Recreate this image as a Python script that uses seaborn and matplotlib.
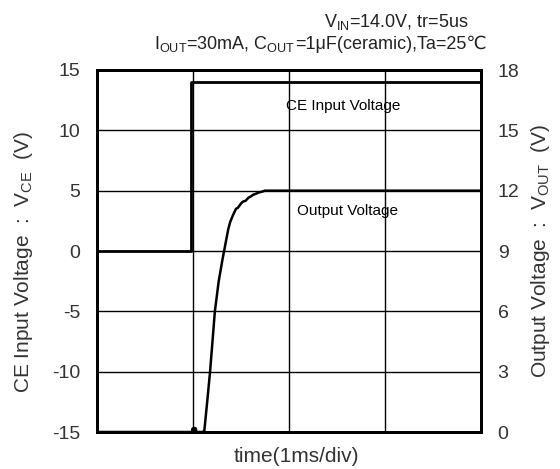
import numpy as np
import pandas as pd
import matplotlib
matplotlib.use("Agg")
import matplotlib.pyplot as plt
import seaborn as sns

# ---- data ----
ce_time = [0.0, 0.98, 0.98, 4.0]
ce_volt = [0.0, 0.0, 14.0, 14.0]

out_time = [0.0, 0.99, 1.00, 1.01, 1.02, 1.03, 1.04, 1.06, 1.10, 1.12, 1.15, 1.18, 1.21, 1.23,
            1.27, 1.31, 1.35, 1.37, 1.39, 1.42, 1.45, 1.47, 1.50, 1.52, 1.55, 1.58,
            1.60, 1.63, 1.66, 1.68, 1.72, 1.75, 4.0]
out_volt = [0.0, 0.0, 0.18, 0.0, 0.2, 0.18, 0.0, 0.0, 0.0, 0.05, 1.5, 3.0, 4.8, 6.0,
            7.5, 8.6, 9.6, 10.1, 10.45, 10.8, 11.1, 11.15, 11.35, 11.45, 11.5, 11.65,
            11.7, 11.8, 11.85, 11.9, 11.95, 12.0, 12.0]

left_ticks = [-15, -10, -5, 0, 5, 10, 15]
right_ticks = [0, 3, 6, 9, 12, 15, 18]

ce_df = pd.DataFrame({"t": ce_time, "v": ce_volt})
out_df = pd.DataFrame({"t": out_time, "v": out_volt})

sns.set_theme(style="white")
plt.rcParams['font.family'] = ['Liberation Sans', 'DejaVu Sans']
plt.rcParams['mathtext.fontset'] = 'custom'
plt.rcParams['mathtext.rm'] = 'Liberation Sans'
plt.rcParams['axes.unicode_minus'] = False

fig = plt.figure(figsize=(5.6, 4.69), dpi=100)
ax = fig.add_axes([96.7 / 560, 1 - 432 / 469, (481 - 96.7) / 560, (432 - 70) / 469])
ax2 = ax.twinx()

sns.lineplot(data=ce_df, x="t", y="v", ax=ax, color="black", linewidth=2.0, estimator=None, sort=False)
sns.lineplot(data=out_df, x="t", y="v", ax=ax2, color="black", linewidth=1.8, estimator=None, sort=False)

ax.set_xlim(0, 4)
ax.set_ylim(-15, 15)
ax2.set_ylim(0, 18)
ax.set_yticks(left_ticks)
ax2.set_yticks(right_ticks)
ax.set_xticks([1, 2, 3])
ax.set_xticklabels([])
ax.grid(True, color="black", linewidth=1.0)
ax2.grid(False)
ax.tick_params(axis="both", length=0, labelsize=14, colors="#333333", pad=12)
ax2.tick_params(axis="y", length=0, labelsize=14, colors="#333333", pad=12)
for a in (ax, ax2):
    for s in a.spines.values():
        s.set_color("black")
        s.set_linewidth(2.0)

ax.set_xlabel("time(1ms/div)", fontsize=15, color="#333333")
ax.xaxis.set_label_coords(0.52, -(447 - 432) / 362)
ax.set_ylabel(r"CE Input Voltage  :  $\mathregular{V_{CE}}$  (V)", fontsize=15, color="#333333")
ax.yaxis.set_label_coords((35 - 96.7) / 384.3, 0.47)
ax2.set_ylabel(r"Output Voltage  :  $\mathregular{V_{OUT}}$  (V)", fontsize=15, color="#333333")
ax2.yaxis.set_label_coords((529 - 96.7) / 384.3, 0.5)

ax.text(1.97, 12.0, "CE Input Voltage", fontsize=11, va="center", ha="left", color="black")
ax2.text(2.08, 11.0, "Output Voltage", fontsize=11, va="center", ha="left", color="black")

fig.text(469 / 560, 1 - 27 / 469, r"$\mathregular{V_{IN}}$=14.0V, tr=5us", fontsize=13,
         ha="right", va="baseline", color="#222222")
# second header line: plain part (with ℃, via font fallback) + mathtext part placed to its left
y2 = 1 - 49 / 469
t_plain = fig.text(487 / 560, y2, "=1μF(ceramic),Ta=25℃", fontsize=13, ha="right", va="baseline",
                   color="#222222")
fig.canvas.draw()
bb = t_plain.get_window_extent()
fig.text(bb.x0 / fig.bbox.width, y2, r"$\mathregular{I_{OUT}}$=30mA, $\mathregular{C_{OUT}}$",
         fontsize=13, ha="right", va="baseline", color="#222222")

fig.savefig("out.png", dpi=100)
